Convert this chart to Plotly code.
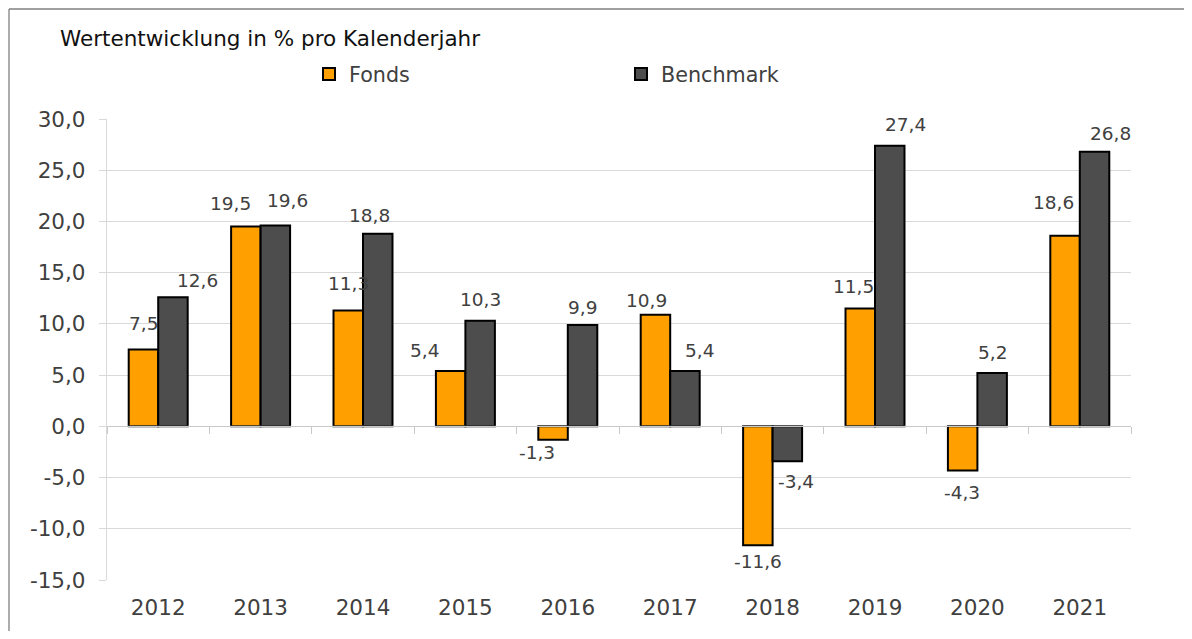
import plotly.graph_objects as go

# ---- data ----
years = ["2012", "2013", "2014", "2015", "2016", "2017", "2018", "2019", "2020", "2021"]
fonds = [7.5, 19.5, 11.3, 5.4, -1.3, 10.9, -11.6, 11.5, -4.3, 18.6]
benchmark = [12.6, 19.6, 18.8, 10.3, 9.9, 5.4, -3.4, 27.4, 5.2, 26.8]
y_ticks = [-15, -10, -5, 0, 5, 10, 15, 20, 25, 30]
y_tick_labels = ["-15,0", "-10,0", "-5,0", "0,0", "5,0", "10,0", "15,0", "20,0", "25,0", "30,0"]

# ---- label placement (pixel offsets, styling only) ----
fonds_dx = [0, -15, 0, -26, -16, -9, 0, -7, -1, -12]
fonds_dy = [25, 22, 26, 20, 14, 13, 17, 21, 23, 32]
bench_dx = [25, 12, -8, 0, 0, 15, 9, 16, 0, 16]
bench_dy = [16, 24, 17, 20, 16, 20, 21, 20, 20, 17]

ORANGE = "#FFA000"
GREY = "#4D4D4D"
TXT = "#404040"
GRID = "#D9D9D9"
FONT = "DejaVu Sans"

# the page body has an 8px margin on every side; the figure fits inside it
OFF = 8
W, H = 1192 - 2 * OFF, 639 - 2 * OFF
ML, MR, MT, MB = 107 - OFF, 61 - OFF, 119 - OFF, 59 - OFF
plot_w = W - ML - MR
plot_h = H - MT - MB
bargap = 0.424
n = len(years)
bar_px = plot_w / n * (1 - bargap) / 2
ymin, ymax = -15, 30
idx = list(range(n))


def fmt(v):
    return f"{v:.1f}".replace(".", ",")


fig = go.Figure()
fig.add_trace(go.Bar(name="Fonds", x=idx, y=fonds,
                     marker=dict(color=ORANGE, line=dict(color="black", width=2))))
fig.add_trace(go.Bar(name="Benchmark", x=idx, y=benchmark,
                     marker=dict(color=GREY, line=dict(color="black", width=2))))
# invisible trace that activates the zero-line axis (x2/y2)
fig.add_trace(go.Scatter(x=[None], y=[None], xaxis="x2", yaxis="y2",
                         showlegend=False, hoverinfo="skip"))

annotations = []
for vals, dxs, dys, side in ((fonds, fonds_dx, fonds_dy, -1), (benchmark, bench_dx, bench_dy, 1)):
    for i, v, dx, dy in zip(idx, vals, dxs, dys):
        annotations.append(dict(
            x=i, y=v, xref="x", yref="y", text=fmt(v), showarrow=False,
            xanchor="center", yanchor="middle",
            xshift=side * bar_px / 2 + dx,
            yshift=(dy + 1) if v >= 0 else -(dy - 1),
            font=dict(family=FONT, size=18.5, color=TXT),
        ))

# outer frame: top and left edges of the picture
fx0 = -(ML - 1) / plot_w
fy1 = 1 + (MT - 1) / plot_h
frame = dict(color="#808080", width=1.3)
shapes = [
    dict(type="line", xref="paper", yref="paper", x0=fx0, x1=1 + MR / plot_w,
         y0=fy1, y1=fy1, line=frame, layer="below"),
    dict(type="line", xref="paper", yref="paper", x0=fx0, x1=fx0,
         y0=-MB / plot_h, y1=fy1, line=frame, layer="below"),
]

zero_frac = (0 - ymin) / (ymax - ymin)

fig.update_layout(
    width=W, height=H,
    margin=dict(l=ML, r=MR, t=MT, b=MB, pad=0),
    paper_bgcolor="white", plot_bgcolor="white",
    barmode="group", bargap=bargap, bargroupgap=0,
    font=dict(family=FONT, size=20, color=TXT),
    title=dict(text="Wertentwicklung in % pro Kalenderjahr", x=(60 - OFF) / W, xanchor="left",
               xref="container", yref="container", y=1 - (38 - OFF) / H, yanchor="middle",
               font=dict(family=FONT, size=21.5, color="#111111")),
    legend=dict(orientation="h", x=(309 - 107) / plot_w, xanchor="left",
                y=1 + (119 - 74) / plot_h, yanchor="middle",
                font=dict(family=FONT, size=20.7, color=TXT),
                itemwidth=30, entrywidth=267, bgcolor="rgba(0,0,0,0)",
                traceorder="normal"),
    xaxis=dict(range=[-0.5, n - 0.5], tickmode="array", tickvals=idx, ticktext=years,
               showgrid=False, showline=False, ticks="", zeroline=False,
               ticklabelstandoff=12,
               tickfont=dict(family=FONT, size=21.5, color=TXT)),
    yaxis=dict(range=[ymin, ymax], tickmode="array", tickvals=y_ticks, ticktext=y_tick_labels,
               showgrid=True, gridcolor=GRID, gridwidth=1.3,
               zeroline=False, showline=True, linecolor=GRID, linewidth=1.3,
               ticks="outside", ticklen=7, tickcolor=GRID, tickwidth=1.3,
               ticklabelstandoff=9,
               tickfont=dict(family=FONT, size=21.5, color=TXT)),
    xaxis2=dict(anchor="y2", domain=[0, 1], range=[-0.5, n - 0.5],
                showgrid=False, showticklabels=False, zeroline=False,
                showline=True, linecolor="#C8C8C8", linewidth=1.3,
                ticks="outside", ticklen=7, tickcolor="#C8C8C8", tickwidth=1.3,
                tickmode="array", tickvals=[i - 0.5 for i in range(n + 1)]),
    yaxis2=dict(anchor="x2", domain=[zero_frac, zero_frac + 0.001], visible=False,
                range=[0, 1]),
    annotations=annotations,
    shapes=shapes,
)

fig.write_html("out.html")
